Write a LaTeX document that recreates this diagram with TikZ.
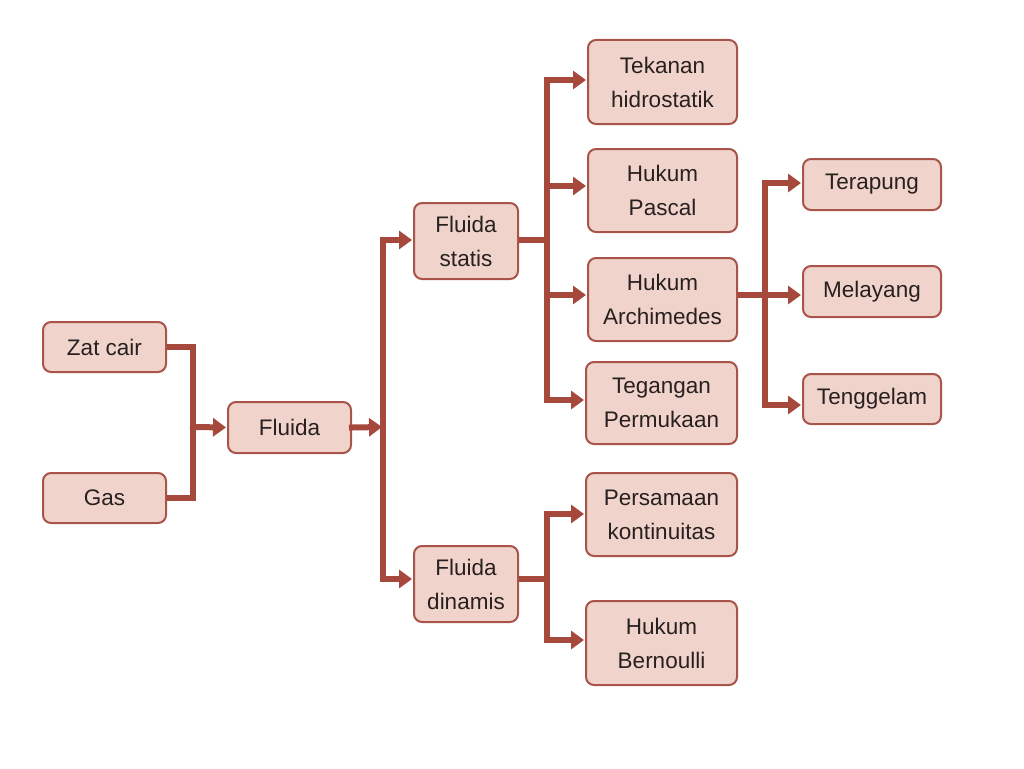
\documentclass[tikz,border=0pt]{standalone}
\usepackage{fontspec}
\setmainfont{Liberation Sans}
\usepackage{tikz}
\usetikzlibrary{positioning, arrows.meta}
\usepackage{xcolor}
\definecolor{boxfill}{RGB}{240,212,203}
\definecolor{boxline}{RGB}{168,84,74}
\definecolor{linkred}{RGB}{166,72,60}
\definecolor{textgrey}{RGB}{40,32,32}

\begin{document}
\begin{tikzpicture}[x=1pt, y=-1pt,
    box/.style={draw=boxline, line width=2pt, fill=boxfill, rounded corners=8pt,
        align=center, inner sep=0pt, text=textgrey, font=\fontsize{22.5}{34}\selectfont},
    link/.style={draw=linkred, line width=6pt, line cap=rect},
    arr/.style={link, -{Triangle[length=13pt, width=18pt]}, shorten >=1pt}]
    \useasboundingbox (0,0) rectangle (1024,768);

    \node[box, minimum width=123pt, minimum height=50pt] (zat) at (104.5,347) {Zat cair};
    \node[box, minimum width=123pt, minimum height=50pt] (gas) at (104.5,498) {Gas};
    \node[box, minimum width=123pt, minimum height=51pt] (fluida) at (289.5,427.5) {Fluida};
    \node[box, minimum width=104pt, minimum height=76pt] (statis) at (466,241) {Fluida\\statis};
    \node[box, minimum width=104pt, minimum height=76pt] (dinamis) at (466,584) {Fluida\\dinamis};

    \node[box, minimum width=149pt, minimum height=84pt] (tekanan) at (662.5,82) {Tekanan\\hidrostatik};
    \node[box, minimum width=149pt, minimum height=83pt] (pascal) at (662.5,190.5) {Hukum\\Pascal};
    \node[box, minimum width=149pt, minimum height=83pt] (archi) at (662.5,299.5) {Hukum\\Archimedes};
    \node[box, minimum width=151pt, minimum height=82pt] (tegangan) at (661.5,403) {Tegangan\\Permukaan};
    \node[box, minimum width=151pt, minimum height=83pt] (kontinu) at (661.5,514.5) {Persamaan\\kontinuitas};
    \node[box, minimum width=151pt, minimum height=84pt] (bernoulli) at (661.5,643) {Hukum\\Bernoulli};

    \node[box, minimum width=138pt, minimum height=51pt] (terapung) at (872,184.5) {Terapung};
    \node[box, minimum width=138pt, minimum height=51pt] (melayang) at (872,291.5) {Melayang};
    \node[box, minimum width=138pt, minimum height=50pt] (tenggelam) at (872,399) {Tenggelam};

    % branch points
    \coordinate (j1) at (193,427);
    \coordinate (j2) at (383,427);
    \coordinate (j2a) at (383,240);
    \coordinate (j2b) at (383,579);
    \coordinate (j3) at (547,240);
    \coordinate (j3a) at (547,80);
    \coordinate (j3b) at (547,186);
    \coordinate (j3c) at (547,295);
    \coordinate (j3d) at (547,400);
    \coordinate (j4) at (547,579);
    \coordinate (j4a) at (547,514);
    \coordinate (j4b) at (547,640);
    \coordinate (j5) at (765,295);
    \coordinate (j5a) at (765,183);
    \coordinate (j5b) at (765,405);

    \draw[link, line cap=butt] (zat.east) -| (j1) |- (gas.east);
    \draw[arr] (j1) -- (fluida.west);
    \draw[arr] (fluida.east) -- (j2);
    \draw[link] (j2a) -- (j2b);
    \draw[arr] (j2a) -- (statis.west |- j2a);
    \draw[arr] (j2b) -- (dinamis.west |- j2b);

    \draw[link, line cap=butt] (statis.east |- j3) -- (j3);
    \draw[link] (j3a) -- (j3d);
    \draw[arr] (j3a) -- (tekanan.west |- j3a);
    \draw[arr] (j3b) -- (pascal.west |- j3b);
    \draw[arr] (j3c) -- (archi.west |- j3c);
    \draw[arr] (j3d) -- (tegangan.west |- j3d);

    \draw[link, line cap=butt] (dinamis.east |- j4) -- (j4);
    \draw[link] (j4a) -- (j4b);
    \draw[arr] (j4a) -- (kontinu.west |- j4a);
    \draw[arr] (j4b) -- (bernoulli.west |- j4b);

    \draw[link, line cap=butt] (archi.east |- j5) -- (j5);
    \draw[link] (j5a) -- (j5b);
    \draw[arr] (j5a) -- (terapung.west |- j5a);
    \draw[arr] (j5) -- (melayang.west |- j5);
    \draw[arr] (j5b) -- (tenggelam.west |- j5b);
\end{tikzpicture}
\end{document}
